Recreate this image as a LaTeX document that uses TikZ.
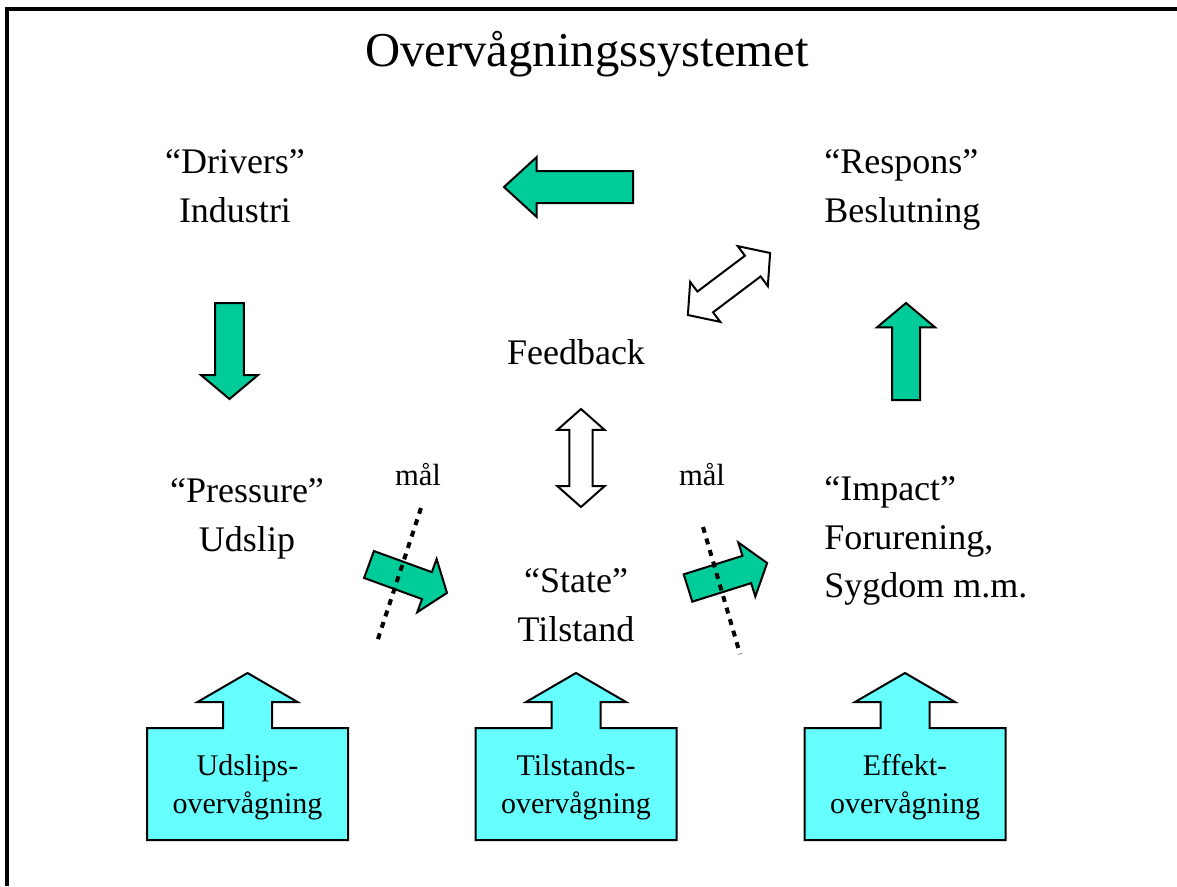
\documentclass[tikz,border=0pt]{standalone}
\usepackage{fontspec}
\setmainfont{Liberation Serif}
\usepackage{xcolor}
\usepackage{tikz}
\usetikzlibrary{shapes.arrows}
\definecolor{arrowgreen}{RGB}{0,204,153}
\definecolor{boxcyan}{RGB}{102,255,255}

\begin{document}
\begin{tikzpicture}[
    x=0.75pt, y=-0.75pt,
    lbl/.style={
        font=\fontsize{27}{37}\selectfont,
        inner sep=0pt,
        align=center
    },
    green arrow/.style={
        single arrow,
        draw=black,
        fill=arrowgreen,
        line width=1.5pt,
        inner xsep=0pt,
        inner ysep=10pt,   % halv skaftbredde
        outer sep=0pt,
        single arrow head extend=10.5pt,
        single arrow tip angle=100,
        anchor=tail
    },
    white arrow/.style={
        double arrow,
        draw=black,
        fill=white,
        line width=1.5pt,
        inner xsep=0pt,
        inner ysep=8pt,
        outer sep=0pt,
        double arrow head extend=9pt,
        double arrow tip angle=97
    },
    watch box/.style={
        draw=black,
        fill=boxcyan,
        line width=1.5pt,
        line join=miter
    },
    cut line/.style={
        line width=3pt,
        dash pattern=on 4.5pt off 4.5pt
    }
]
    \useasboundingbox (0,0) rectangle (1177,886);
    % ramme
    \draw[line width=2.4pt] (7,886) -- (7,9) -- (1177,9);

    \node[lbl, font=\fontsize{36.5}{40}\selectfont] (title) at (587,54) {Overvågningssystemet};

    % tekster
    \node[lbl] (drivers) at (235,186) {“Drivers”\\Industri};
    \node[lbl, align=left, anchor=west] (respons) at (824,190) {“Respons”\\Beslutning};
    \node[lbl] (feedback) at (576,352) {Feedback};
    \node[lbl] (pressure) at (247,519) {“Pressure”\\Udslip};
    \node[lbl] (state) at (576,605) {“State”\\Tilstand};
    \node[lbl, align=left, anchor=west, font=\fontsize{27}{36.5}\selectfont] (impact) at (824,541) {“Impact”\\Forurening,\\Sygdom m.m.};
    \node[lbl, font=\fontsize{23}{28}\selectfont] (maal1) at (418,475) {mål};
    \node[lbl, font=\fontsize{23}{28}\selectfont] (maal2) at (702,475) {mål};

    % grønne pile
    \node[green arrow, rotate=180, minimum height=96.75pt, inner ysep=11.25pt,
          single arrow tip angle=85] (back) at (633,187) {};
    \node[green arrow, rotate=-90, minimum height=72pt] (down) at (229.5,303) {};
    \node[green arrow, rotate=90, minimum height=72.75pt, inner ysep=9.75pt,
          single arrow head extend=11.25pt] (up) at (906,400) {};
    \node[green arrow, rotate=-20, minimum height=62.25pt,
          single arrow tip angle=106] (to state) at (369,564.5) {};
    \node[green arrow, rotate=17.5, minimum height=62.25pt,
          single arrow tip angle=106] (to impact) at (688,588) {};

    % hvide dobbeltpile
    \node[white arrow, rotate=90, minimum height=73.5pt] (fb state) at (581,458) {};
    \node[white arrow, rotate=37, minimum height=77.25pt, inner ysep=9pt,
          double arrow tip angle=98] (fb respons) at (729,284) {};

    % stiplede linjer
    \coordinate (c1) at (421,508);
    \coordinate (c2) at (377,642);
    \coordinate (c3) at (703,527);
    \coordinate (c4) at (740,654);
    \draw[cut line] (c1) -- (c2);
    \draw[cut line] (c3) -- (c4);

    % overvågningskasser
    \foreach \c/\la/\lb [count=\i] in {247.5/Udslips-/overvågning, 576/Tilstands-/overvågning, 905/Effekt-/overvågning}{
        \draw[watch box] (\c-100.5,840) -- (\c-100.5,728) -- (\c-24.5,728) -- (\c-24.5,702)
            -- (\c-50,702) -- (\c,673) -- (\c+50,702) -- (\c+24.5,702) -- (\c+24.5,728)
            -- (\c+100.5,728) -- (\c+100.5,840) -- cycle;
        \node[lbl, font=\fontsize{22.5}{28.5}\selectfont] (watch\i) at (\c,787) {\la\\\lb};
    }
\end{tikzpicture}
\end{document}
